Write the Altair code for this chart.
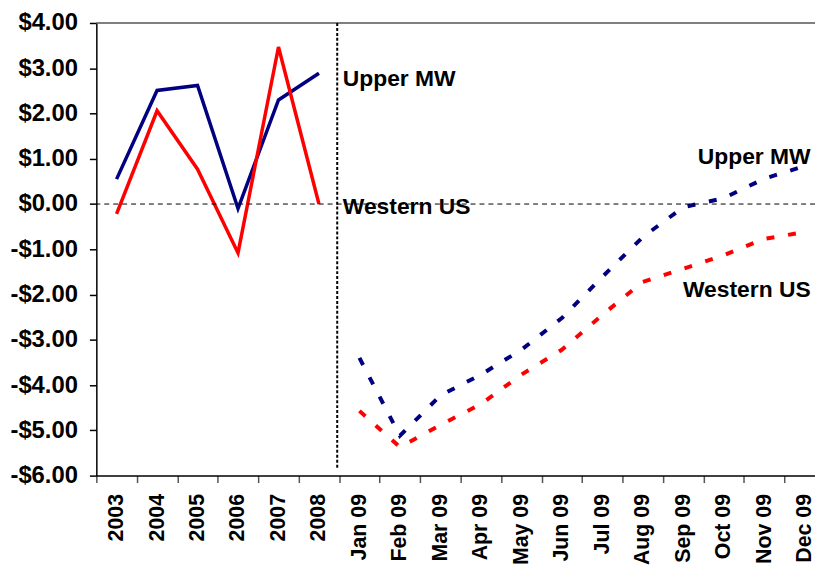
import altair as alt
import pandas as pd

years = ["2003", "2004", "2005", "2006", "2007", "2008"]
months = ["Jan 09", "Feb 09", "Mar 09", "Apr 09", "May 09", "Jun 09",
          "Jul 09", "Aug 09", "Sep 09", "Oct 09", "Nov 09", "Dec 09"]
categories = years + months

annual_upper = [0.55, 2.51, 2.62, -0.10, 2.30, 2.89]
annual_western = [-0.22, 2.06, 0.77, -1.08, 3.47, 0.00]
monthly_upper = [-3.40, -5.12, -4.23, -3.77, -3.22, -2.52, -1.61, -0.73, -0.07, 0.13, 0.56, 0.84]
monthly_western = [-4.57, -5.37, -4.88, -4.42, -3.77, -3.22, -2.45, -1.72, -1.43, -1.13, -0.77, -0.62]

series_names = ["Upper MW", "Western US"]
series_colors = ["#000080", "#FF0000"]

label_cats = ["2008", "2008", "Dec 09", "Dec 09"]
label_vals = [2.77, -0.06, 1.04, -1.89]
label_text = ["Upper MW", "Western US", "Upper MW", "Western US"]
label_side = ["left", "left", "right", "right"]

annual = pd.DataFrame(
    [{"cat": c, "series": "Upper MW", "value": v} for c, v in zip(years, annual_upper)]
    + [{"cat": c, "series": "Western US", "value": v} for c, v in zip(years, annual_western)]
)
monthly = pd.DataFrame(
    [{"cat": c, "series": "Upper MW", "value": v} for c, v in zip(months, monthly_upper)]
    + [{"cat": c, "series": "Western US", "value": v} for c, v in zip(months, monthly_western)]
)
labels = pd.DataFrame({"cat": label_cats, "value": label_vals, "text": label_text, "side": label_side})
divider = pd.DataFrame({"cat": ["Jan 09"], "top": [4.0], "bottom": [-5.86]})
top_line = pd.DataFrame({"value": [4.0]})
zero_line = pd.DataFrame({"value": [0.0]})

FONT = "Liberation Sans"

xscale = alt.Scale(type="band", domain=categories, range=[0, 734], paddingInner=0, paddingOuter=0)
yscale = alt.Scale(domain=[-6, 4], nice=False, zero=False)
cscale = alt.Scale(domain=series_names, range=series_colors)

x_axis = alt.Axis(
    title=None, labelAngle=270, labelFont=FONT, labelFontSize=21.5, labelFontWeight="bold",
    labelColor="black", labelPadding=11, tickSize=7, tickColor="#555", tickWidth=1.5,
    domain=True, domainColor="black", domainWidth=1.5, tickBand="extent", labelOverlap=False,
    labelLimit=200, grid=False,
)
y_axis = alt.Axis(
    title=None, values=[-6, -5, -4, -3, -2, -1, 0, 1, 2, 3, 4], labelFont=FONT,
    labelFontSize=24, labelFontWeight="bold", labelColor="black", labelPadding=12,
    tickSize=7, tickColor="black", tickWidth=1.5, domain=True, domainColor="black", domainWidth=1.5,
    grid=False,
    labelExpr="datum.value < 0 ? '-$' + format(-datum.value, '.2f') : '$' + format(datum.value, '.2f')",
)


def X(**kw):
    return alt.X("cat:N", scale=xscale, axis=x_axis, **kw)


def Y(field="value:Q"):
    return alt.Y(field, scale=yscale, axis=y_axis)


annual_lines = alt.Chart(annual).mark_line(strokeWidth=3.5, strokeJoin="miter").encode(
    x=X(),
    y=Y(),
    color=alt.Color("series:N", scale=cscale, legend=None),
    detail="series:N",
)

monthly_lines = alt.Chart(monthly).mark_line(strokeWidth=4, strokeDash=[8, 14], strokeCap="butt").encode(
    x=X(),
    y=Y(),
    color=alt.Color("series:N", scale=cscale, legend=None),
    detail="series:N",
)

text_left = alt.Chart(labels).transform_filter(alt.datum.side == "left").mark_text(
    align="left", baseline="middle", font=FONT, fontSize=23, fontWeight="bold", color="black", dx=24
).encode(x=X(), y=Y(), text="text:N")

text_right = alt.Chart(labels).transform_filter(alt.datum.side == "right").mark_text(
    align="right", baseline="middle", font=FONT, fontSize=23, fontWeight="bold", color="black", dx=6
).encode(x=X(), y=Y(), text="text:N")

top_rule = alt.Chart(top_line).mark_rule(color="#555", strokeWidth=1.5).encode(y=Y())

zero_rule = alt.Chart(zero_line).mark_rule(color="black", strokeWidth=1, strokeDash=[5, 4]).encode(y=Y())

vline = alt.Chart(divider).mark_rule(color="black", strokeWidth=2, strokeDash=[3, 2], xOffset=-2).encode(
    x=X(bandPosition=0),
    y=Y("top:Q"),
    y2="bottom:Q",
)

chart = alt.layer(
    annual_lines, monthly_lines, text_left, text_right, top_rule, zero_rule, vline
).properties(
    width=724,
    height=456,
    autosize=alt.AutoSizeParams(type="none"),
    padding={"left": 89, "top": 13, "right": 0, "bottom": 93},
    background="white",
).configure_view(strokeWidth=0)

chart.save("out.html", embed_options={"renderer": "svg", "actions": False})
